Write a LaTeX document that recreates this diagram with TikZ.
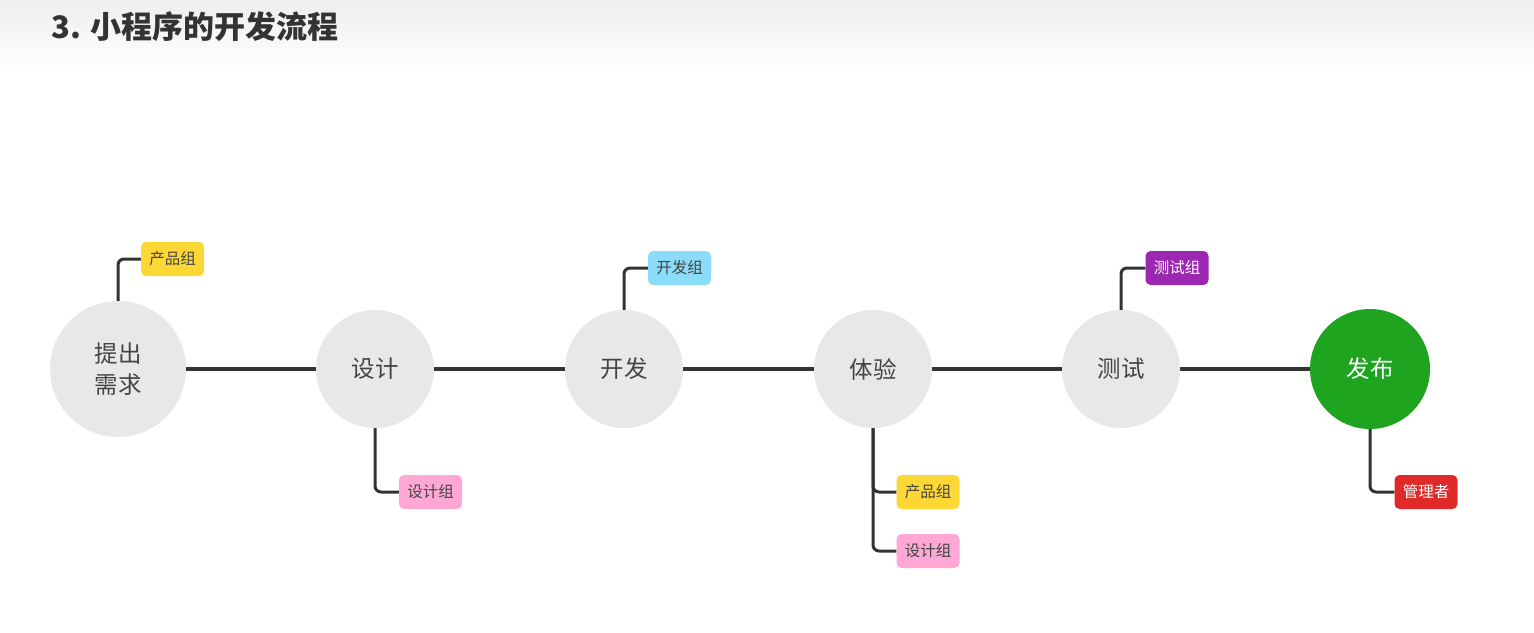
\documentclass[tikz,border=0pt]{standalone}
\usepackage{fontspec}
\newfontfamily\cjk{Noto Sans CJK SC}
\definecolor{linec}{HTML}{333333}
\definecolor{circc}{HTML}{E8E8E8}
\definecolor{txtc}{HTML}{444444}
\definecolor{pubc}{HTML}{1FA420}
\definecolor{yelc}{HTML}{FDD835}
\definecolor{pinkc}{HTML}{FFA8D6}
\definecolor{bluec}{HTML}{8ADCF8}
\definecolor{purc}{HTML}{9C27B0}
\definecolor{redc}{HTML}{E02A2A}
\definecolor{titc}{HTML}{333333}
\begin{document}
\begin{tikzpicture}[x=1pt,y=-1pt,
  stage/.style={circle,fill=circc,inner sep=0pt,minimum size=118pt,text=txtc,font=\cjk\fontsize{23.5}{31}\selectfont,align=center},
  tag/.style={rounded corners=5pt,inner sep=0pt,minimum width=63pt,minimum height=34pt,text=txtc,font=\cjk\fontsize{15.5}{18}\selectfont},
  mainline/.style={draw=linec,line width=4pt},
  branch/.style={draw=linec,line width=3pt,rounded corners=6pt}]
\useasboundingbox (0,0) rectangle (1534,632);
\shade[top color={rgb,255:red,238;green,238;blue,238},bottom color=white] (0,0) rectangle (1534,70);
\node[anchor=west,text=titc,font=\cjk\bfseries\fontsize{31}{36}\selectfont] (title) at (48,27) {3. 小程序的开发流程};

% main line
\coordinate (l1) at (186,369);
\coordinate (l2) at (1310,369);
\draw[mainline] (l1) -- (l2);

% stages
\node[stage,minimum size=136pt] (c1) at (118,369) {提出\\需求};
\node[stage] (c2) at (375,369) {设计};
\node[stage] (c3) at (624,369) {开发};
\node[stage] (c4) at (873,369) {体验};
\node[stage] (c5) at (1121,369) {测试};
\node[stage,fill=pubc,text=white,minimum size=120pt] (c6) at (1370,369) {发布};

% tags
\node[tag,fill=yelc] (t1) at (172.5,259) {产品组};
\node[tag,fill=pinkc] (t2) at (430.5,492) {设计组};
\node[tag,fill=bluec] (t3) at (679.5,268) {开发组};
\node[tag,fill=yelc] (t4) at (928,492) {产品组};
\node[tag,fill=pinkc] (t5) at (928,551) {设计组};
\node[tag,fill=purc,text=white] (t6) at (1177,268) {测试组};
\node[tag,fill=redc,text=white] (t7) at (1426,492) {管理者};

% branches
\draw[branch] (c1.north) |- (t1.west);
\draw[branch] (c2.south) |- (t2.west);
\draw[branch] (c3.north) |- (t3.west);
\draw[branch] (c4.south) |- (t4.west);
\draw[branch] (c4.south) |- (t5.west);
\draw[branch] (c5.north) |- (t6.west);
\draw[branch] (c6.south) |- (t7.west);
\end{tikzpicture}
\end{document}
